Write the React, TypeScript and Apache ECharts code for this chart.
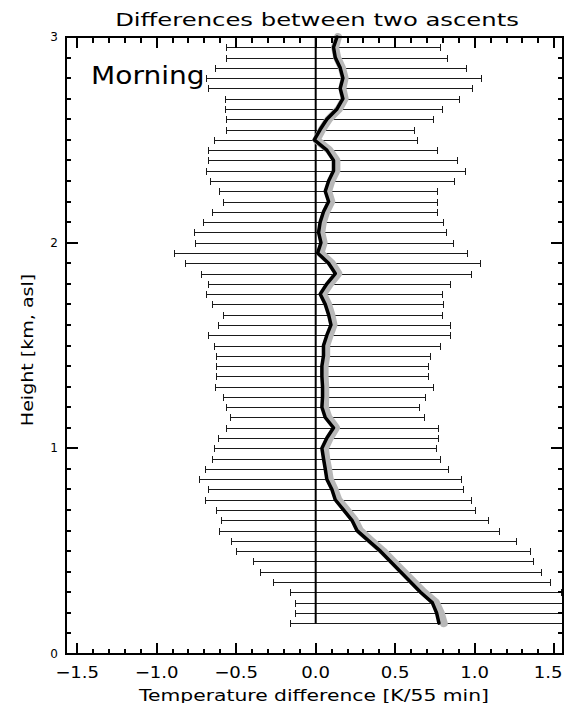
import { useEffect, useRef } from "react";
import * as echarts from "echarts";

// Heights of the error bars [km, asl]
const barHeights = [
  2.95, 2.9, 2.85, 2.8, 2.75, 2.7, 2.65, 2.6, 2.55, 2.5,
  2.45, 2.4, 2.35, 2.3, 2.25, 2.2, 2.15, 2.1, 2.05, 2.0,
  1.95, 1.9, 1.85, 1.8, 1.75, 1.7, 1.65, 1.6, 1.55, 1.5,
  1.45, 1.4, 1.35, 1.3, 1.25, 1.2, 1.15, 1.1, 1.05, 1.0,
  0.95, 0.9, 0.85, 0.8, 0.75, 0.7, 0.65, 0.6, 0.55, 0.5,
  0.45, 0.4, 0.35, 0.3, 0.25, 0.2, 0.15,
];

// Left ends of the error bars [K/55 min]
const barLower = [
  -0.565, -0.565, -0.632, -0.691, -0.68, -0.573, -0.573, -0.565, -0.565, -0.64,
  -0.674, -0.674, -0.691, -0.664, -0.607, -0.582, -0.655, -0.706, -0.764, -0.758,
  -0.893, -0.821, -0.723, -0.674, -0.691, -0.655, -0.584, -0.617, -0.674, -0.64,
  -0.624, -0.624, -0.624, -0.632, -0.582, -0.565, -0.539, -0.565, -0.615, -0.64,
  -0.655, -0.697, -0.731, -0.68, -0.697, -0.624, -0.598, -0.607, -0.533, -0.499,
  -0.392, -0.35, -0.27, -0.161, -0.127, -0.127, -0.161,
];

// Right ends of the error bars [K/55 min]
const barUpper = [
  0.779, 0.828, 0.943, 1.042, 0.985, 0.903, 0.796, 0.737, 0.621, 0.638,
  0.76, 0.891, 0.937, 0.87, 0.76, 0.76, 0.76, 0.802, 0.821, 0.861,
  0.95, 1.034, 0.975, 0.842, 0.796, 0.802, 0.796, 0.842, 0.842, 0.779,
  0.718, 0.706, 0.706, 0.737, 0.687, 0.647, 0.68, 0.771, 0.771, 0.754,
  0.779, 0.834, 0.912, 0.929, 0.975, 1.0, 1.084, 1.15, 1.259, 1.35,
  1.365, 1.415, 1.474, 1.54, 1.62, 1.66, 1.64,
];

// Heights of the mean profile [km, asl]
const profileHeights = [
  3.0,
  2.95, 2.9, 2.85, 2.8, 2.75, 2.7, 2.65, 2.6, 2.55, 2.5,
  2.45, 2.4, 2.35, 2.3, 2.25, 2.2, 2.15, 2.1, 2.05, 2.0,
  1.95, 1.9, 1.85, 1.8, 1.75, 1.7, 1.65, 1.6, 1.55, 1.5,
  1.45, 1.4, 1.35, 1.3, 1.25, 1.2, 1.15, 1.1, 1.05, 1.0,
  0.95, 0.9, 0.85, 0.8, 0.75, 0.7, 0.65, 0.6, 0.55, 0.5,
  0.45, 0.4, 0.35, 0.3, 0.25, 0.2, 0.15,
];

// Mean temperature difference (black curve)
const meanDiff = [
  0.134,
  0.112, 0.123, 0.154, 0.171, 0.154, 0.171, 0.134, 0.07, 0.028, -0.009,
  0.07, 0.112, 0.112, 0.081, 0.06, 0.081, 0.049, 0.028, 0.018, 0.033,
  0.012, 0.081, 0.123, 0.07, 0.028, 0.06, 0.081, 0.096, 0.07, 0.049,
  0.049, 0.039, 0.039, 0.043, 0.043, 0.039, 0.06, 0.112, 0.07, 0.039,
  0.049, 0.06, 0.07, 0.102, 0.123, 0.176, 0.228, 0.26, 0.333, 0.407,
  0.47, 0.533, 0.596, 0.659, 0.733, 0.76, 0.775,
];

// Second (grey) difference profile
const greyDiff = [
  0.14,
  0.122, 0.135, 0.165, 0.182, 0.168, 0.182, 0.146, 0.082, 0.04, 0.005,
  0.085, 0.13, 0.13, 0.098, 0.078, 0.098, 0.066, 0.045, 0.035, 0.05,
  0.03, 0.1, 0.142, 0.09, 0.046, 0.078, 0.098, 0.112, 0.088, 0.066,
  0.066, 0.056, 0.056, 0.06, 0.06, 0.058, 0.08, 0.128, 0.088, 0.058,
  0.066, 0.078, 0.088, 0.118, 0.142, 0.195, 0.246, 0.278, 0.35, 0.424,
  0.488, 0.552, 0.616, 0.68, 0.756, 0.786, 0.805,
];

// Zero reference line
const zeroLineX = [0, 0];
const zeroLineHeights = [0.15, 3.0];

// Axis ticks and labels
const xMajorTicks = [-1.5, -1.0, -0.5, 0.0, 0.5, 1.0, 1.5];
const xTickLabels = ["\u22121.5", "\u22121.0", "\u22120.5", "0.0", "0.5", "1.0", "1.5"];
const xMinorTicks = [
  -1.4, -1.3, -1.2, -1.1, -0.9, -0.8, -0.7, -0.6, -0.4, -0.3, -0.2, -0.1,
  0.1, 0.2, 0.3, 0.4, 0.6, 0.7, 0.8, 0.9, 1.1, 1.2, 1.3, 1.4,
];
const yMajorTicks = [0, 1, 2, 3];
const yMinorTicks = [
  0.1, 0.2, 0.3, 0.4, 0.5, 0.6, 0.7, 0.8, 0.9,
  1.1, 1.2, 1.3, 1.4, 1.5, 1.6, 1.7, 1.8, 1.9,
  2.1, 2.2, 2.3, 2.4, 2.5, 2.6, 2.7, 2.8, 2.9,
];

const titleText = "Differences between two ascents";
const panelLabel = "Morning";
const xAxisName = "Temperature difference [K/55 min]";
const yAxisName = "Height [km, asl]";

const FONT = '"DejaVu Sans", "Liberation Sans", sans-serif';

export default function App() {
  const ref = useRef<HTMLDivElement>(null);

  useEffect(() => {
    if (!ref.current) return;
    const chart = echarts.init(ref.current, null, { renderer: "svg" });

    const XMIN = -1.57;
    const XMAX = 1.555;
    const YMIN = 0;
    const YMAX = 3;
    const black = "#000";

    const barData = barHeights.map((h, i) => [barLower[i], barUpper[i], h]);
    const meanData = profileHeights.map((h, i) => [meanDiff[i], h]);
    const greyData = profileHeights.map((h, i) => [greyDiff[i], h]);
    const zeroData = zeroLineHeights.map((h, i) => [zeroLineX[i], h]);

    chart.setOption({
      animation: false,
      backgroundColor: "#fff",
      grid: { left: 66, right: 3, top: 37, bottom: 49, containLabel: false },
      xAxis: {
        type: "value",
        min: XMIN,
        max: XMAX,
        axisLine: { show: false },
        axisTick: { show: false },
        axisLabel: { show: false },
        splitLine: { show: false },
      },
      yAxis: {
        type: "value",
        min: YMIN,
        max: YMAX,
        interval: 1,
        axisLine: { show: false },
        axisTick: { show: false },
        axisLabel: { color: black, fontFamily: FONT, fontSize: 12, margin: 8 },
        splitLine: { show: false },
      },
      series: [
        {
          type: "custom",
          clip: true,
          silent: true,
          encode: { x: [0, 1], y: 2 },
          data: barData,
          renderItem: (_params: any, api: any) => {
            const h = api.value(2);
            const p1 = api.coord([api.value(0), h]);
            const p2 = api.coord([api.value(1), h]);
            const y = Math.round(p1[1]) + 0.5;
            const x1 = Math.round(p1[0]) + 0.5;
            const x2 = Math.round(p2[0]) + 0.5;
            const c = 3.5;
            return {
              type: "group",
              children: [
                { type: "line", shape: { x1, y1: y, x2, y2: y }, style: { stroke: "#1a1a1a", lineWidth: 1 } },
                { type: "line", shape: { x1, y1: y - c, x2: x1, y2: y + c }, style: { stroke: "#1a1a1a", lineWidth: 1 } },
                { type: "line", shape: { x1: x2, y1: y - c, x2, y2: y + c }, style: { stroke: "#1a1a1a", lineWidth: 1 } },
              ],
            };
          },
          z: 1,
        },
        {
          type: "line",
          data: zeroData,
          symbol: "none",
          silent: true,
          lineStyle: { color: black, width: 2 },
          z: 2,
        },
        {
          type: "line",
          data: greyData,
          symbol: "none",
          silent: true,
          lineStyle: { color: "#b8b8b8", width: 8, cap: "round", join: "round" },
          z: 3,
        },
        {
          type: "line",
          data: meanData,
          symbol: "none",
          silent: true,
          lineStyle: { color: black, width: 3.5, cap: "round", join: "round" },
          z: 4,
        },
      ],
    });

    const toX = (v: number) => chart.convertToPixel({ xAxisIndex: 0 }, v) as number;
    const toY = (v: number) => chart.convertToPixel({ yAxisIndex: 0 }, v) as number;
    const left = toX(XMIN);
    const right = toX(XMAX);
    const top = toY(YMAX);
    const bottom = toY(YMIN);

    const textStyle = (text: string, size: number, align: string) => ({
      text,
      x: 0,
      y: 0,
      fill: black,
      fontFamily: FONT,
      fontSize: size,
      fontWeight: "normal",
      textAlign: align,
      align,
      textVerticalAlign: "middle",
      verticalAlign: "middle",
    });

    const lineEl = (x1: number, y1: number, x2: number, y2: number) => ({
      type: "line",
      silent: true,
      z: 20,
      shape: { x1, y1, x2, y2 },
      style: { stroke: black, lineWidth: 2, fill: null },
    });

    const graphics: any[] = [
      {
        type: "rect",
        silent: true,
        z: 20,
        shape: { x: left, y: top, width: right - left, height: bottom - top },
        style: { stroke: black, lineWidth: 2, fill: null },
      },
      { type: "text", x: 317, y: 20, scaleX: 1.35, style: textStyle(titleText, 18, "center"), z: 10 },
      { type: "text", x: 91, y: 75.5, scaleX: 1.17, style: textStyle(panelLabel, 24, "left"), z: 10 },
      { type: "text", x: 314, y: 695, scaleX: 1.27, style: textStyle(xAxisName, 16, "center"), z: 10 },
      {
        type: "text",
        x: 28,
        y: 350,
        rotation: Math.PI / 2,
        scaleX: 1.19,
        style: textStyle(yAxisName, 16, "center"),
        z: 10,
      },
    ];

    xMajorTicks.forEach((v) => {
      const px = Math.round(toX(v));
      graphics.push(lineEl(px, bottom, px, bottom - 11));
      graphics.push(lineEl(px, top, px, top + 11));
    });
    xMinorTicks.forEach((v) => {
      const px = Math.round(toX(v));
      graphics.push(lineEl(px, bottom, px, bottom - 5));
      graphics.push(lineEl(px, top, px, top + 6));
    });
    yMajorTicks.forEach((v) => {
      const py = Math.round(toY(v));
      graphics.push(lineEl(left, py, left + 12, py));
      graphics.push(lineEl(right, py, right - 12, py));
    });
    yMinorTicks.forEach((v) => {
      const py = Math.round(toY(v));
      graphics.push(lineEl(left, py, left + 5, py));
      graphics.push(lineEl(right, py, right - 5, py));
    });

    xMajorTicks.forEach((v, i) => {
      graphics.push({
        type: "text",
        x: Math.min(toX(v), 548),
        y: 672.5,
        scaleX: 1.13,
        style: textStyle(xTickLabels[i], 16, "center"),
        z: 10,
      });
    });

    chart.setOption({ graphic: graphics });

    return () => chart.dispose();
  }, []);

  return (
    <div
      ref={ref}
      style={{ position: "fixed", left: 0, top: 0, width: 566, height: 703, background: "#fff" }}
    />
  );
}
